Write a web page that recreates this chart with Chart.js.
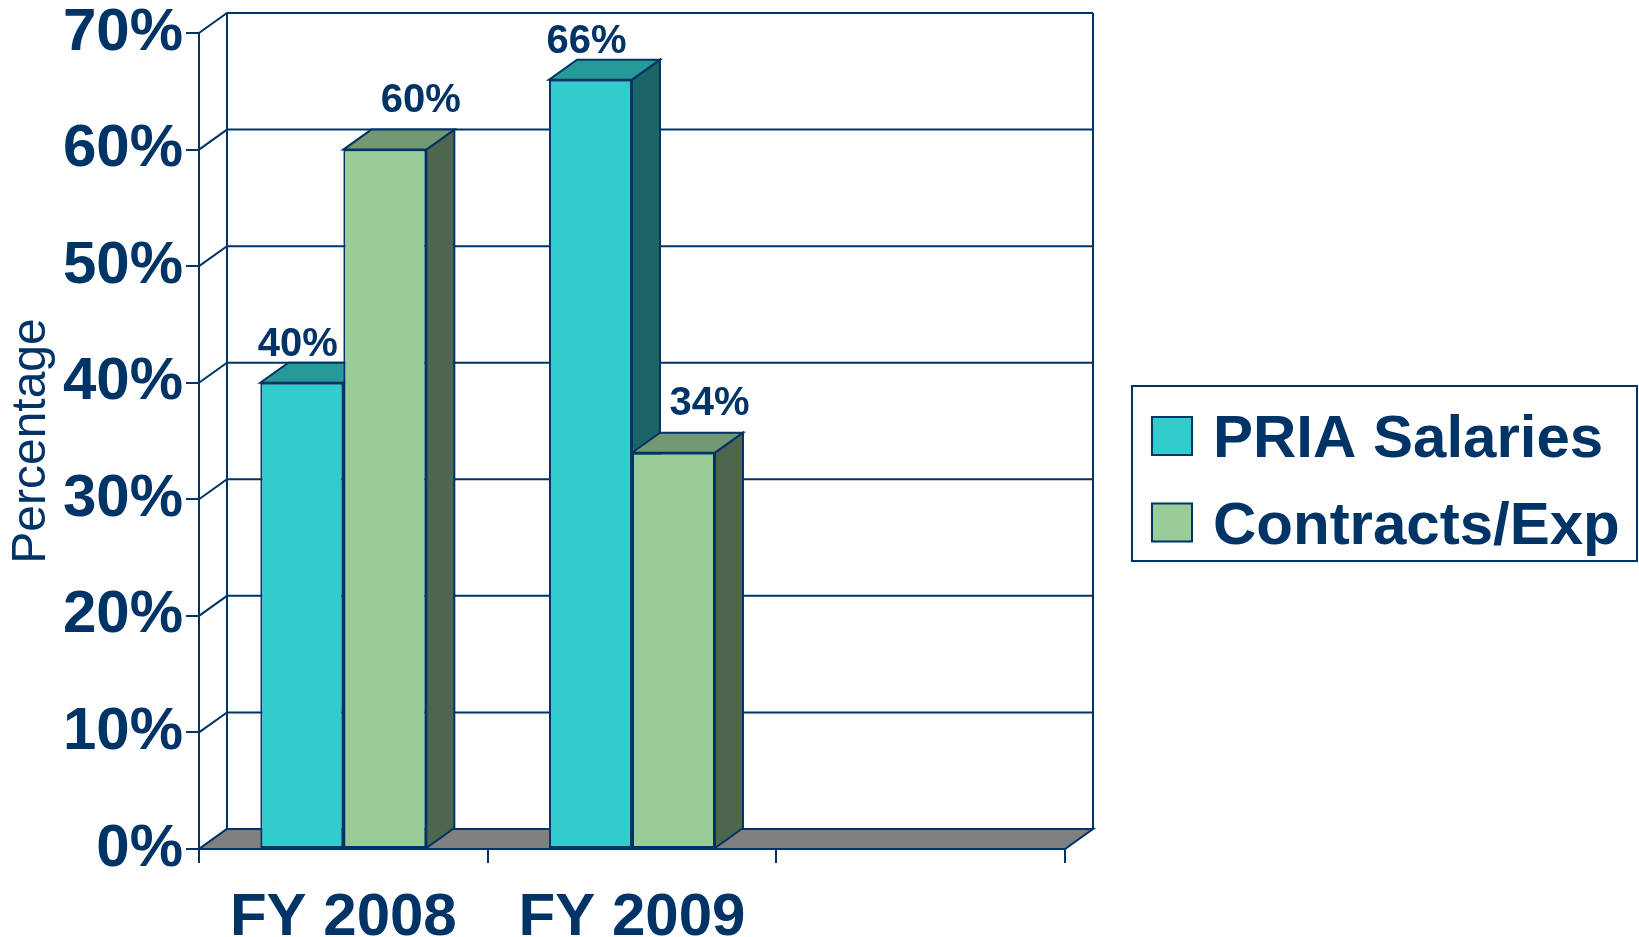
<!DOCTYPE html>
<html>
<head>
<meta charset="utf-8">
<title>PRIA Salaries vs Contracts/Exp</title>
<script src="https://cdn.jsdelivr.net/npm/chart.js@4.4.1/dist/chart.umd.min.js"></script>
<style>
  html, body { margin: 0; padding: 0; background: #ffffff; }
  #wrap { width: 1639px; height: 937px; }
</style>
</head>
<body>
<div id="wrap"><canvas id="chart" width="1639" height="937"></canvas></div>
<script>
// Chart data
const categories = ['FY 2008', 'FY 2009', ''];
const seriesNames = ['PRIA Salaries', 'Contracts/Exp'];
const priaSalaries = [40, 66, null];
const contractsExp = [60, 34, null];
const yMin = 0;
const yMax = 70;
const yStep = 10;

// Colours and fonts
const NAVY = '#003366';
const faceColors = [
    { front: '#33CCCC', top: '#269999', side: '#1A6666' },
    { front: '#99CC99', top: '#739973', side: '#4D664D' }
];
const FONT = '"Liberation Sans", Arial, Helvetica, sans-serif';

// Depth of the fake 3D box
const DX = 28;
const DY = 20;

// Fill + outline a polygon
function poly(ctx, pts, fill) {
    ctx.beginPath();
    ctx.moveTo(pts[0][0], pts[0][1]);
    for (let i = 1; i < pts.length; i++) ctx.lineTo(pts[i][0], pts[i][1]);
    ctx.closePath();
    ctx.fillStyle = fill;
    ctx.fill();
    ctx.stroke();
}

// Walls, floor, grid and the top/side faces of the bars
const box3d = {
    id: 'box3d',
    beforeDatasetsDraw(chart) {
        const ctx = chart.ctx;
        const area = chart.chartArea;
        const yScale = chart.scales.y;
        ctx.save();
        ctx.strokeStyle = NAVY;
        ctx.lineWidth = 2;

        // gridlines on the back wall, connectors on the side wall
        yScale.ticks.forEach(t => {
            const y = yScale.getPixelForValue(t.value);
            ctx.beginPath();
            ctx.moveTo(area.left, y);
            ctx.lineTo(area.left + DX, y - DY);
            if (t.value > yMin) ctx.lineTo(area.right + DX, y - DY);
            ctx.stroke();
        });

        // wall edges
        ctx.beginPath();
        ctx.moveTo(area.left, area.top);
        ctx.lineTo(area.left, area.bottom);
        ctx.moveTo(area.left + DX, area.top - DY);
        ctx.lineTo(area.left + DX, area.bottom - DY);
        ctx.moveTo(area.right + DX, area.top - DY);
        ctx.lineTo(area.right + DX, area.bottom - DY);
        ctx.stroke();

        // floor
        poly(ctx, [
            [area.left, area.bottom],
            [area.right, area.bottom],
            [area.right + DX, area.bottom - DY],
            [area.left + DX, area.bottom - DY]
        ], '#808080');

        // side and top faces, left to right
        for (let i = 0; i < chart.data.labels.length; i++) {
            chart.data.datasets.forEach((ds, d) => {
                const el = chart.getDatasetMeta(d).data[i];
                if (!el || ds.data[i] == null) return;
                const p = el.getProps(['x', 'y', 'base', 'width'], true);
                const l = p.x - p.width / 2;
                const r = p.x + p.width / 2;
                poly(ctx, [[r, p.y], [r + DX, p.y - DY], [r + DX, p.base - DY], [r, p.base]], faceColors[d].side);
                poly(ctx, [[l, p.y], [r, p.y], [r + DX, p.y - DY], [l + DX, p.y - DY]], faceColors[d].top);
            });
        }
        ctx.restore();
    },
    afterDatasetsDraw(chart) {
        // value labels above the bars
        const ctx = chart.ctx;
        ctx.save();
        ctx.fillStyle = NAVY;
        ctx.font = 'bold 40px ' + FONT;
        ctx.textAlign = 'center';
        ctx.textBaseline = 'alphabetic';
        chart.data.datasets.forEach((ds, d) => {
            chart.getDatasetMeta(d).data.forEach((el, i) => {
                if (ds.data[i] == null) return;
                const p = el.getProps(['x', 'y'], true);
                ctx.fillText(ds.data[i] + '%', p.x + ds.labelDx, p.y - DY - ds.labelLift);
            });
        });
        ctx.restore();
    }
};

// Boxed legend on the right
const boxLegend = {
    id: 'boxLegend',
    afterDraw(chart) {
        const ctx = chart.ctx;
        const left = 1132, top = 386, w = 505, h = 175;
        ctx.save();
        ctx.strokeStyle = NAVY;
        ctx.lineWidth = 2;
        ctx.strokeRect(left, top, w, h);
        ctx.font = 'bold 60px ' + FONT;
        ctx.textBaseline = 'alphabetic';
        ctx.textAlign = 'left';
        chart.data.datasets.forEach((ds, d) => {
            const cy = top + 50 + d * 86.5;
            ctx.fillStyle = faceColors[d].front;
            ctx.fillRect(left + 20, cy - 19, 40, 38);
            ctx.strokeRect(left + 20, cy - 19, 40, 38);
            ctx.fillStyle = NAVY;
            ctx.fillText(ds.label, left + 81, cy + 21);
        });
        ctx.restore();
    }
};

const tickFont = { family: FONT, size: 60, weight: 'bold', lineHeight: 1 };

new Chart(document.getElementById('chart'), {
    type: 'bar',
    data: {
        labels: categories,
        datasets: [
            {
                label: seriesNames[0],
                data: priaSalaries,
                backgroundColor: faceColors[0].front,
                borderColor: NAVY,
                borderWidth: 2,
                borderSkipped: false,
                categoryPercentage: 0.575,
                barPercentage: 1,
                labelDx: -4,
                labelLift: 7
            },
            {
                label: seriesNames[1],
                data: contractsExp,
                backgroundColor: faceColors[1].front,
                borderColor: NAVY,
                borderWidth: 2,
                borderSkipped: false,
                categoryPercentage: 0.575,
                barPercentage: 1,
                labelDx: 36,
                labelLift: 18
            }
        ]
    },
    options: {
        responsive: false,
        animation: false,
        layout: { padding: { top: 33, right: 574, bottom: 0, left: 0 } },
        plugins: {
            legend: { display: false },
            tooltip: { enabled: false }
        },
        scales: {
            x: {
                grid: { drawOnChartArea: false, tickLength: 14, color: NAVY, lineWidth: 2, offset: true },
                border: { display: false },
                ticks: { color: NAVY, font: tickFont, padding: 25, maxRotation: 0, autoSkip: false },
                afterFit(scale) { scale.height = 88; }
            },
            y: {
                min: yMin,
                max: yMax,
                ticks: {
                    stepSize: yStep,
                    callback: v => v + '%',
                    color: NAVY,
                    font: tickFont,
                    padding: 3
                },
                grid: { drawOnChartArea: false, tickLength: 13, color: NAVY, lineWidth: 2 },
                border: { display: false },
                title: {
                    display: true,
                    text: 'Percentage',
                    color: NAVY,
                    font: { family: FONT, size: 48, lineHeight: 1 },
                    padding: { top: 8, bottom: 0 }
                },
                afterFit(scale) { scale.width = 199; }
            }
        }
    },
    plugins: [box3d, boxLegend]
});
</script>
</body>
</html>
